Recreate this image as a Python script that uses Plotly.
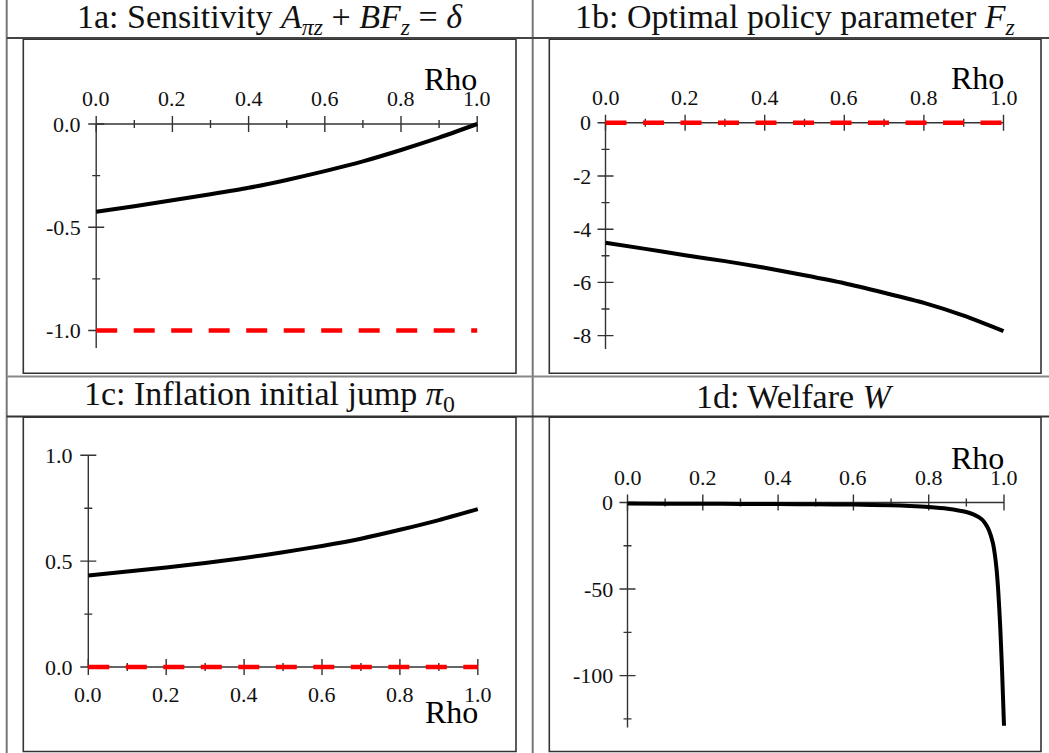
import plotly.graph_objects as go

W, H = 1049, 753

# ---------------- data ----------------
rho = [0.0, 0.1, 0.2, 0.3, 0.4, 0.5, 0.6, 0.7, 0.8, 0.9, 1.0]
sens_opt = [-0.425, -0.398, -0.369, -0.340, -0.309, -0.271, -0.228, -0.181, -0.126, -0.066, 0.0]
fz_opt = [-4.51, -4.74, -4.98, -5.20, -5.45, -5.73, -6.03, -6.39, -6.77, -7.25, -7.83]
pi0_opt = [0.432, 0.451, 0.470, 0.491, 0.515, 0.542, 0.572, 0.606, 0.648, 0.694, 0.746]

rho_ref = [0.0, 1.0]
sens_ref = [-1.0, -1.0]
fz_ref = [0.0, 0.0]
pi0_ref = [0.0, 0.0]

rho_w = [0.0, 0.1, 0.2, 0.3, 0.4, 0.5, 0.6, 0.7, 0.75, 0.8, 0.85, 0.9, 0.92, 0.94,
         0.95, 0.96, 0.97, 0.975, 0.98, 0.985, 0.99, 0.995, 1.0]
welfare = [-0.6, -0.65, -0.7, -0.8, -0.9, -1.0, -1.2, -1.6, -2.0, -2.6, -3.6, -5.5, -7.0, -9.5,
           -12.0, -16.0, -23.0, -29.0, -38.0, -52.0, -72.0, -98.0, -129.0]

titles = [
    "1a: Sensitivity <i>A</i><sub><i>πz</i></sub> + <i>BF</i><sub><i>z</i></sub> = <i>δ</i>",
    "1b: Optimal policy parameter <i>F</i><sub><i>z</i></sub>",
    "1c: Inflation initial jump <i>π</i><sub>0</sub>",
    "1d: Welfare <i>W</i>",
]
x_major = [0.0, 0.2, 0.4, 0.6, 0.8, 1.0]
x_major_lbl = ["0.0", "0.2", "0.4", "0.6", "0.8", "1.0"]
x_minor = [0.1, 0.3, 0.5, 0.7, 0.9]

panels = [
    dict(box=(23.3, 39.3, 516, 373.3), x0=96.2, sx=381.0, y0=124.0, sy=206.5,
         ymaj=[0.0, -0.5, -1.0], ylbl=["0.0", "-0.5", "-1.0"], ymin=[-0.25, -0.75],
         yaxis_span=(0.0, -1.085), xlab="top",
         curve=(rho, sens_opt), ref=(rho_ref, sens_ref)),
    dict(box=(549.3, 39.3, 1041, 373.3), x0=605.5, sx=398.0, y0=122.8, sy=26.6,
         ymaj=[0, -2, -4, -6, -8], ylbl=["0", "-2", "-4", "-6", "-8"], ymin=[-1, -3, -5, -7],
         yaxis_span=(0.0, -8.5), xlab="top",
         curve=(rho, fz_opt), ref=(rho_ref, fz_ref)),
    dict(box=(23.3, 417.3, 516, 751.5), x0=88.3, sx=389.5, y0=667.0, sy=211.7,
         ymaj=[0.0, 0.5, 1.0], ylbl=["0.0", "0.5", "1.0"], ymin=[0.25, 0.75],
         yaxis_span=(0.0, 1.0), xlab="bottom",
         curve=(rho, pi0_opt), ref=(rho_ref, pi0_ref)),
    dict(box=(549.3, 417.3, 1041, 751.5), x0=627.5, sx=376.5, y0=502.5, sy=1.731,
         ymaj=[0, -50, -100], ylbl=["0", "-50", "-100"], ymin=[-25, -75, -125],
         yaxis_span=(0.0, -130.0), xlab="top",
         curve=(rho_w, welfare), ref=None),
]

fig = go.Figure()
shapes = []
ann = []
AX = dict(color="#333", width=1.4)
FONT_TICK = dict(family="Liberation Serif, Times New Roman, serif", size=22, color="#111")
FONT_RHO = dict(family="Liberation Serif, Times New Roman, serif", size=32, color="#000")
FONT_TITLE = dict(family="Liberation Serif, Times New Roman, serif", size=34, color="#111")

layout_axes = {}
for i, p in enumerate(panels):
    n = i + 1
    xa = "x" if n == 1 else f"x{n}"
    ya = "y" if n == 1 else f"y{n}"
    L, T, R, B = p["box"]
    xr = [(L - p["x0"]) / p["sx"], (R - p["x0"]) / p["sx"]]
    yr = [(p["y0"] - B) / p["sy"], (p["y0"] - T) / p["sy"]]
    layout_axes["xaxis" if n == 1 else f"xaxis{n}"] = dict(
        domain=[L / W, R / W], range=xr, visible=False, anchor=ya, fixedrange=True)
    layout_axes["yaxis" if n == 1 else f"yaxis{n}"] = dict(
        domain=[1 - B / H, 1 - T / H], range=yr, visible=False, anchor=xa, fixedrange=True)

    # panel frame
    shapes.append(dict(type="rect", xref="paper", yref="paper", x0=L / W, x1=R / W,
                       y0=1 - B / H, y1=1 - T / H, line=dict(color="#333", width=1.6),
                       layer="below"))
    # axis lines
    shapes.append(dict(type="line", xref=xa, yref=ya, x0=0, x1=1, y0=0, y1=0,
                       line=AX, layer="below"))
    ya0, ya1 = p["yaxis_span"]
    shapes.append(dict(type="line", xref=xa, yref=ya, x0=0, x1=0, y0=ya0, y1=ya1,
                       line=AX, layer="below"))
    # x ticks
    for t in x_major:
        shapes.append(dict(type="line", xref=xa, yref=ya, ysizemode="pixel", yanchor=0,
                           x0=t, x1=t, y0=-8, y1=8, line=AX, layer="below"))
    for t in x_minor:
        shapes.append(dict(type="line", xref=xa, yref=ya, ysizemode="pixel", yanchor=0,
                           x0=t, x1=t, y0=-4, y1=4, line=AX, layer="below"))
    # y ticks
    for v in p["ymaj"]:
        shapes.append(dict(type="line", xref=xa, yref=ya, xsizemode="pixel", xanchor=0,
                           x0=-8, x1=8, y0=v, y1=v, line=AX, layer="below"))
    for v in p["ymin"]:
        shapes.append(dict(type="line", xref=xa, yref=ya, xsizemode="pixel", xanchor=0,
                           x0=-4, x1=4, y0=v, y1=v, line=AX, layer="below"))
    # x tick labels
    for t, s in zip(x_major, x_major_lbl):
        if p["xlab"] == "top":
            ann.append(dict(x=t, y=0, xref=xa, yref=ya, text=s, showarrow=False,
                            xanchor="center", yanchor="bottom", yshift=11, font=FONT_TICK))
        else:
            ann.append(dict(x=t, y=0, xref=xa, yref=ya, text=s, showarrow=False,
                            xanchor="center", yanchor="top", yshift=-13, font=FONT_TICK))
    # y tick labels
    for v, s in zip(p["ymaj"], p["ylbl"]):
        ann.append(dict(x=0, y=v, xref=xa, yref=ya, text=s, showarrow=False,
                        xanchor="right", yanchor="middle", xshift=-13, font=FONT_TICK))
    # Rho label
    if p["xlab"] == "top":
        ann.append(dict(x=1.0, y=0, xref=xa, yref=ya, text="Rho", showarrow=False,
                        xanchor="right", yanchor="bottom", xshift=2, yshift=25, font=FONT_RHO))
    else:
        ann.append(dict(x=1.0, y=0, xref=xa, yref=ya, text="Rho", showarrow=False,
                        xanchor="right", yanchor="top", xshift=2, yshift=-25, font=FONT_RHO))

    # traces
    cx, cy = p["curve"]
    if p["ref"] is not None:
        rx, ry = p["ref"]
        fig.add_trace(go.Scatter(x=rx, y=ry, xaxis=xa, yaxis=ya, mode="lines",
                                 line=dict(color="#ff0000", width=4.5, dash="21px,16.5px"),
                                 hoverinfo="skip", showlegend=False, cliponaxis=False))
    fig.add_trace(go.Scatter(x=cx, y=cy, xaxis=xa, yaxis=ya, mode="lines",
                             line=dict(color="#000", width=4, shape="spline", smoothing=0.6),
                             hoverinfo="skip", showlegend=False, cliponaxis=False))

# table grid lines
GRID = dict(color="#777", width=2)
shapes.append(dict(type="line", xref="paper", yref="paper", x0=6.7 / W, x1=6.7 / W, y0=0, y1=1, line=GRID))
shapes.append(dict(type="line", xref="paper", yref="paper", x0=532.7 / W, x1=532.7 / W, y0=0, y1=1, line=GRID))
shapes.append(dict(type="line", xref="paper", yref="paper", x0=6.7 / W, x1=1, y0=1 - 38 / H, y1=1 - 38 / H,
                   line=dict(color="#444", width=2)))
shapes.append(dict(type="line", xref="paper", yref="paper", x0=6.7 / W, x1=1, y0=1 - 376.5 / H, y1=1 - 376.5 / H,
                   line=dict(color="#888", width=2)))
shapes.append(dict(type="line", xref="paper", yref="paper", x0=6.7 / W, x1=1, y0=1 - 416.5 / H, y1=1 - 416.5 / H,
                   line=dict(color="#333", width=2)))

# titles
title_pos = [(269.7, 19), (795, 19), (269.7, 396), (795, 396)]
for (tx, ty), t in zip(title_pos, titles):
    ann.append(dict(x=tx / W, y=1 - ty / H, xref="paper", yref="paper", text=t, showarrow=False,
                    xanchor="center", yanchor="middle", font=FONT_TITLE))

fig.update_layout(width=W, height=H, margin=dict(l=0, r=0, t=0, b=0),
                  paper_bgcolor="white", plot_bgcolor="white", showlegend=False,
                  shapes=shapes, annotations=ann, **layout_axes)
fig.write_html("out.html", config={"displayModeBar": False, "staticPlot": True},
               post_script="document.body.style.margin='0px';")
